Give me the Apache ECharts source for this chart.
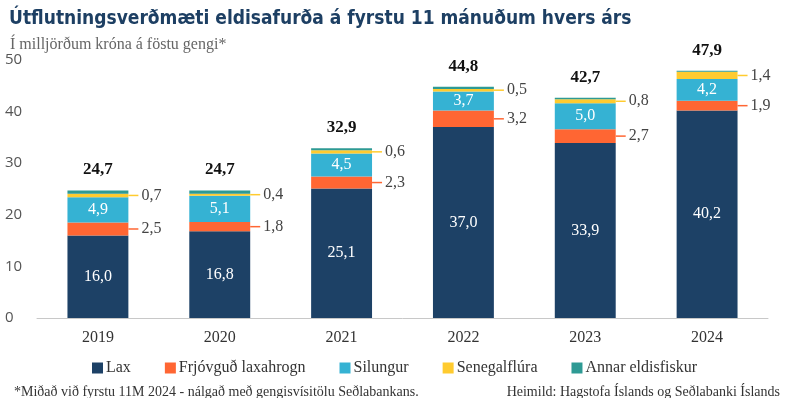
<!DOCTYPE html>
<html>
<head>
<meta charset="utf-8">
<style>
  html, body { margin: 0; padding: 0; background: #fff; }
  #chart { width: 789px; height: 398px; }
</style>
<script src="https://cdn.jsdelivr.net/npm/echarts@6/dist/echarts.min.js"></script>
</head>
<body>
<div id="chart"></div>
<script>
const years = ['2019', '2020', '2021', '2022', '2023', '2024']
const lax = [16.0, 16.8, 25.1, 37.0, 33.9, 40.2]
const hrogn = [2.5, 1.8, 2.3, 3.2, 2.7, 1.9]
const silungur = [4.9, 5.1, 4.5, 3.7, 5.0, 4.2]
const senegal = [0.7, 0.4, 0.6, 0.5, 0.8, 1.4]
const annar = [0.6, 0.6, 0.4, 0.4, 0.3, 0.2]
const totals = [24.7, 24.7, 32.9, 44.8, 42.7, 47.9]
const yTicks = [0, 10, 20, 30, 40, 50]

const serif = "'Liberation Serif', 'DejaVu Serif', serif"
const colors = {
  lax: '#1d4166',
  hrogn: '#ff6633',
  silungur: '#35b2d3',
  senegal: '#ffcb2f',
  annar: '#2e9a94'
}

const fmt = v => v.toFixed(1).replace('.', ',')

// white label in the middle of the segment
const insideLabel = {
  show: true,
  position: 'inside',
  color: '#fff',
  fontFamily: serif,
  fontSize: 16,
  formatter: p => fmt(p.value)
}

// label to the right with a short leader line in the segment colour
function sideLabel (color) {
  return {
    show: true,
    position: 'right',
    distance: 0,
    formatter: p => '{l|}{v|' + fmt(p.value) + '}',
    rich: {
      l: { width: 10, height: 1.5, backgroundColor: color },
      v: { color: '#444', fontFamily: serif, fontSize: 16, padding: [0, 0, 0, 3] }
    }
  }
}

const chart = echarts.init(document.getElementById('chart'))

const option = {
  animation: false,
  title: [
    {
      text: 'Útflutningsverðmæti eldisafurða á fyrstu 11 mánuðum hvers árs',
      left: 4,
      top: 5,
      textStyle: {
        fontFamily: "'Liberation Sans Narrow', 'DejaVu Sans Condensed', 'Liberation Sans', sans-serif",
        fontWeight: 'bold',
        fontSize: 19,
        color: '#1d3f63'
      }
    },
    {
      text: 'Í milljörðum króna á föstu gengi*',
      left: 5,
      top: 32,
      textStyle: { fontFamily: serif, fontWeight: 'normal', fontSize: 16, color: '#666' }
    },
    {
      text: '*Miðað við fyrstu 11M 2024 - nálgað með gengisvísitölu Seðlabankans.',
      left: 9,
      top: 380,
      textStyle: { fontFamily: serif, fontWeight: 'normal', fontSize: 14, color: '#333' }
    },
    {
      text: 'Heimild: Hagstofa Íslands og Seðlabanki Íslands',
      right: 4,
      top: 380,
      textStyle: { fontFamily: serif, fontWeight: 'normal', fontSize: 14, color: '#333' }
    }
  ],
  legend: {
    left: 'center',
    top: 355,
    itemWidth: 11,
    itemHeight: 11,
    itemGap: 34,
    icon: 'rect',
    textStyle: { fontFamily: serif, fontSize: 16, color: '#333', padding: [0, 0, 0, -2] },
    data: ['Lax', 'Frjóvguð laxahrogn', 'Silungur', 'Senegalflúra', 'Annar eldisfiskur']
  },
  grid: { left: 37, right: 21, top: 60, bottom: 80 },
  xAxis: {
    type: 'category',
    data: years,
    axisLine: { lineStyle: { color: '#c8c8c8' } },
    axisTick: { show: false },
    axisLabel: { fontFamily: serif, fontSize: 16, color: '#333', margin: 12 }
  },
  yAxis: {
    type: 'value',
    min: yTicks[0],
    max: yTicks[yTicks.length - 1],
    interval: 10,
    splitLine: { show: false },
    axisLine: { show: false },
    axisTick: { show: false },
    axisLabel: {
      fontFamily: "'Open Sans', sans-serif",
      fontSize: 15,
      color: '#555',
      align: 'left',
      margin: 32
    }
  },
  series: [
    { name: 'Lax', type: 'bar', stack: 't', barWidth: '50%', data: lax, itemStyle: { color: colors.lax }, label: insideLabel },
    { name: 'Frjóvguð laxahrogn', type: 'bar', stack: 't', data: hrogn, itemStyle: { color: colors.hrogn }, label: sideLabel(colors.hrogn) },
    { name: 'Silungur', type: 'bar', stack: 't', data: silungur, itemStyle: { color: colors.silungur }, label: insideLabel },
    { name: 'Senegalflúra', type: 'bar', stack: 't', data: senegal, itemStyle: { color: colors.senegal }, label: sideLabel(colors.senegal) },
    {
      name: 'Annar eldisfiskur',
      type: 'bar',
      stack: 't',
      data: annar,
      itemStyle: { color: colors.annar },
      label: {
        show: true,
        position: 'top',
        distance: 12,
        fontFamily: serif,
        fontWeight: 'bold',
        fontSize: 17,
        color: '#111',
        formatter: p => fmt(totals[p.dataIndex])
      }
    }
  ]
}

chart.setOption(option)
</script>
</body>
</html>
